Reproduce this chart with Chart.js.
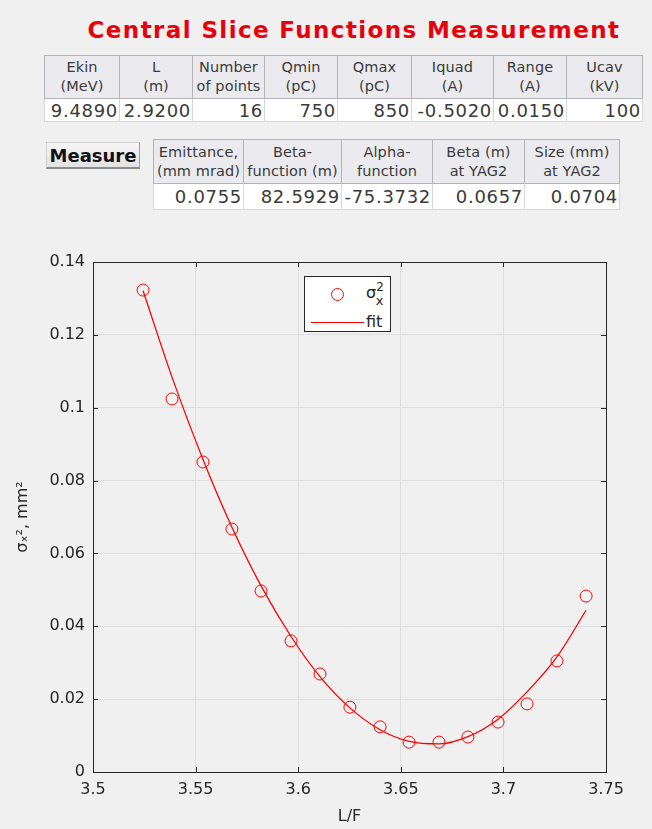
<!DOCTYPE html>
<html>
<head>
<meta charset="utf-8">
<script src="https://cdn.jsdelivr.net/npm/chart.js@4.4.1/dist/chart.umd.min.js"></script>
<style>
body { margin: 0; background: #f0f0f0; font-family: "DejaVu Sans", sans-serif; color: #222; }
#wrap { position: relative; width: 652px; height: 829px; overflow: hidden; }
#title { position: absolute; left: 80px; top: 17px; width: 548px; margin: 0; text-align: center;
  font: bold 23px "DejaVu Sans", sans-serif; letter-spacing: 1.4px; color: #e8000b; white-space: nowrap; }
table { position: absolute; border-collapse: collapse; table-layout: fixed; border: 1px solid #9a9a9a; }
th { background: #ebebef; font-weight: normal; font-size: 14.5px; letter-spacing: 0.1px; line-height: 19px; color: #3a3a3a;
  border: 1px solid #b4b4b8; padding: 0; text-align: center; white-space: nowrap; overflow: hidden; }
td { background: #fff; font-size: 18px; letter-spacing: 0.7px; color: #3a3a3a; border: 1px solid #d8d8d8; padding: 0 1px 0 0;
  text-align: right; white-space: nowrap; overflow: hidden; }
#params { left: 44px; top: 55px; width: 598px; }
#params th { height: 42px; }
#params td { height: 22px; }
#results { left: 153px; top: 139px; width: 466px; }
#results th { height: 43px; }
#results td { height: 25px; }
#measure { position: absolute; left: 46px; top: 142px; width: 94px; height: 27px; box-sizing: border-box;
  font: bold 18px "DejaVu Sans", sans-serif; color: #111; text-align: center; line-height: 25px;
  background: linear-gradient(#f6f6f6, #e2e2e2); border: 1px solid #d0d0d0; border-bottom: 2px solid #8c8c8c;
  border-right: 1px solid #a0a0a0; }
#chart { position: absolute; left: 0; top: 240px; }
#legend { position: absolute; left: 304px; top: 276px; width: 87px; height: 56px; background: #fff;
  border: 1px solid #262626; box-sizing: border-box; font-size: 16px; color: #262626; }
#legend .mk { position: absolute; left: 26px; top: 11px; width: 11px; height: 11px; border: 1px solid #f00; border-radius: 50%; }
#legend .ln { position: absolute; left: 6px; top: 45px; width: 53px; height: 0; border-top: 1.3px solid #f00; }
#legend .t1 { position: absolute; left: 61px; top: 4px; font-size: 16px; line-height: 15px; }
#legend .t2 { position: absolute; left: 61px; top: 36px; line-height: 17px; }
</style>
</head>
<body>
<div id="wrap">
  <h1 id="title">Central Slice Functions Measurement</h1>

  <table id="params">
    <colgroup><col style="width:75px"><col style="width:73px"><col style="width:72px"><col style="width:73px"><col style="width:74px"><col style="width:82px"><col style="width:73px"><col style="width:76px"></colgroup>
    <tr id="params-head"></tr>
    <tr id="params-row"></tr>
  </table>

  <div id="measure">Measure</div>

  <table id="results">
    <colgroup><col style="width:90px"><col style="width:98px"><col style="width:91px"><col style="width:92px"><col style="width:95px"></colgroup>
    <tr id="results-head"></tr>
    <tr id="results-row"></tr>
  </table>

  <canvas id="chart" width="652" height="589"></canvas>

  <div id="legend">
    <span class="mk"></span><span class="t1">σ<sup style="font-size:12px;position:relative;top:-1px">2</sup><span style="font-size:13px;position:relative;left:-8px;top:7px">x</span></span>
    <span class="ln"></span><span class="t2">fit</span>
  </div>
</div>

<script>
// table contents
var paramHeaders = ['Ekin<br>(MeV)', 'L<br>(m)', 'Number<br>of points', 'Qmin<br>(pC)', 'Qmax<br>(pC)', 'Iquad<br>(A)', 'Range<br>(A)', 'Ucav<br>(kV)']
var paramValues = ['9.4890', '2.9200', '16', '750', '850', '-0.5020', '0.0150', '100']
var resultHeaders = ['Emittance,<br>(mm mrad)', 'Beta-<br>function (m)', 'Alpha-<br>function', 'Beta (m)<br>at YAG2', 'Size (mm)<br>at YAG2']
var resultValues = ['0.0755', '82.5929', '-75.3732', '0.0657', '0.0704']

// chart data
var lfValues = [3.5244, 3.5385, 3.5536, 3.5677, 3.5819, 3.5965, 3.6106, 3.6252,
                3.6399, 3.6540, 3.6686, 3.6827, 3.6974, 3.7115, 3.7261, 3.7403]
var sigmaSq = [0.1323, 0.1024, 0.0851, 0.0667, 0.0497, 0.0360, 0.0269, 0.0178,
               0.0124, 0.0082, 0.0082, 0.0096, 0.0137, 0.0187, 0.0305, 0.0483]
var fitValues = [0.1321, 0.1084, 0.0858, 0.0672, 0.0511, 0.0372, 0.0262, 0.0176,
                 0.0116, 0.0084, 0.0077, 0.0097, 0.0145, 0.0220, 0.0316, 0.0444]
var xTicks = [3.5, 3.55, 3.6, 3.65, 3.7, 3.75]
var yTicks = [0, 0.02, 0.04, 0.06, 0.08, 0.1, 0.12, 0.14]

function fillRow(id, cells, tag) {
    var row = document.getElementById(id)
    for (var i = 0; i < cells.length; i++) {
        var c = document.createElement(tag)
        c.innerHTML = cells[i]
        row.appendChild(c)
    }
}
fillRow('params-head', paramHeaders, 'th')
fillRow('params-row', paramValues, 'td')
fillRow('results-head', resultHeaders, 'th')
fillRow('results-row', resultValues, 'td')

var axisColor = '#262626'
var tickFont = { family: 'DejaVu Sans', size: 16 }

function tidy(v) {
    return String(parseFloat(v.toFixed(4)))
}

// MATLAB-style box with inward ticks on all four sides
var boxTicks = {
    id: 'boxTicks',
    afterDraw: function (chart) {
        var ctx = chart.ctx, a = chart.chartArea
        var xs = chart.scales.x, ys = chart.scales.y
        ctx.save()
        ctx.strokeStyle = axisColor
        ctx.lineWidth = 1
        ctx.beginPath()
        xTicks.forEach(function (t) {
            var px = Math.round(xs.getPixelForValue(t)) + 0.5
            ctx.moveTo(px, a.bottom); ctx.lineTo(px, a.bottom - 5)
            ctx.moveTo(px, a.top); ctx.lineTo(px, a.top + 5)
        })
        yTicks.forEach(function (t) {
            var py = Math.round(ys.getPixelForValue(t)) + 0.5
            ctx.moveTo(a.left, py); ctx.lineTo(a.left + 5, py)
            ctx.moveTo(a.right, py); ctx.lineTo(a.right - 5, py)
        })
        ctx.stroke()
        ctx.strokeRect(Math.round(a.left) + 0.5, Math.round(a.top) + 0.5,
            Math.round(a.right - a.left), Math.round(a.bottom - a.top))
        ctx.restore()
    }
}

var chartCanvas = document.getElementById('chart').getContext('2d')

new Chart(chartCanvas, {
    type: 'scatter',
    data: {
        datasets: [{
            label: 'σx²',
            data: lfValues.map(function (x, i) { return { x: x, y: sigmaSq[i] } }),
            pointStyle: 'circle',
            pointRadius: 6,
            borderColor: '#ff0000',
            backgroundColor: 'rgba(0,0,0,0)',
            borderWidth: 1,
            showLine: false
        }, {
            type: 'line',
            label: 'fit',
            data: lfValues.map(function (x, i) { return { x: x, y: fitValues[i] } }),
            borderColor: '#ff0000',
            borderWidth: 1.3,
            pointRadius: 0,
            fill: false,
            cubicInterpolationMode: 'monotone'
        }]
    },
    options: {
        responsive: false,
        animation: false,
        layout: { padding: { top: 22, right: 46, left: 0, bottom: 0 } },
        plugins: { legend: { display: false }, tooltip: { enabled: false } },
        scales: {
            x: {
                type: 'linear',
                min: 3.5, max: 3.75,
                afterBuildTicks: function (s) { s.ticks = xTicks.map(function (v) { return { value: v } }) },
                afterFit: function (s) { s.height = 57 },
                ticks: { callback: tidy, font: tickFont, color: axisColor, padding: 8, maxRotation: 0 },
                grid: { color: '#dedede', drawTicks: false },
                border: { display: false },
                title: { display: true, text: 'L/F', font: tickFont, color: axisColor, padding: { top: 2, bottom: 3 } }
            },
            y: {
                min: 0, max: 0.14,
                afterBuildTicks: function (s) { s.ticks = yTicks.map(function (v) { return { value: v } }) },
                afterFit: function (s) { s.width = 93 },
                ticks: { callback: tidy, font: tickFont, color: axisColor, padding: 8 },
                grid: { color: '#dedede', drawTicks: false },
                border: { display: false },
                title: { display: true, text: 'σₓ², mm²', font: tickFont, color: axisColor, padding: { top: 13, bottom: 0 } }
            }
        }
    },
    plugins: [boxTicks]
})
</script>
</body>
</html>
